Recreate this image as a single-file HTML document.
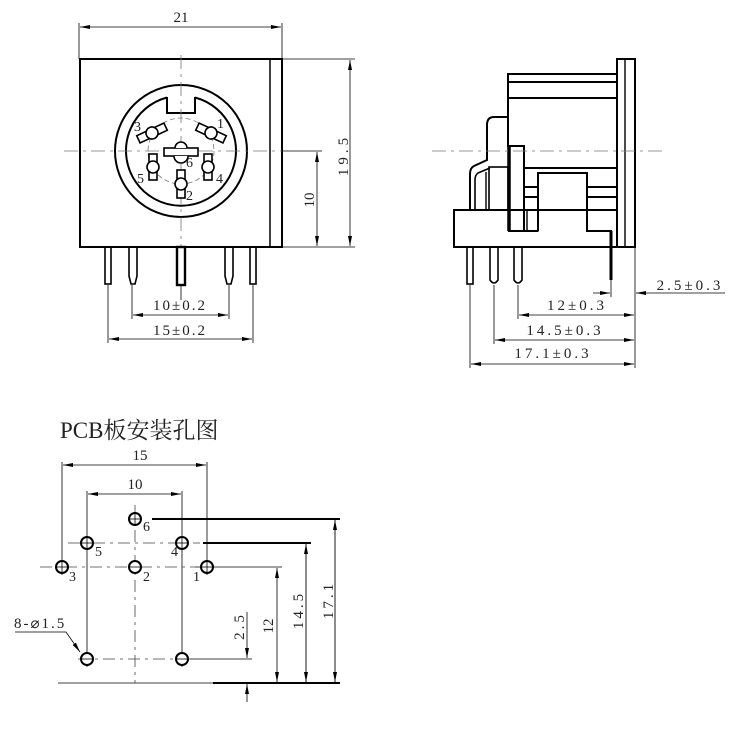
<!DOCTYPE html>
<html><head><meta charset="utf-8"><style>
html,body{margin:0;padding:0;background:#fff}
svg{display:block}
text{font-family:"Liberation Serif","Noto Serif CJK SC",serif;fill:#222}
</style></head><body>
<svg width="738" height="735" viewBox="0 0 738 735" xmlns="http://www.w3.org/2000/svg">
<defs>
<marker id="a" viewBox="0 0 10 6" refX="10" refY="3" markerWidth="10" markerHeight="6" orient="auto-start-reverse" markerUnits="userSpaceOnUse"><path d="M0,1 L10,3 L0,5z" fill="#000"/></marker>
</defs>
<g stroke="#000" fill="none">
<!-- FRONT VIEW -->
<g stroke-width="0.8">
<line x1="79" y1="23" x2="79" y2="59"/><line x1="282" y1="23" x2="282" y2="59"/>
<line x1="80" y1="27" x2="281" y2="27" marker-start="url(#a)" marker-end="url(#a)"/>
<line x1="282" y1="59" x2="355" y2="59"/><line x1="282" y1="247" x2="355" y2="247"/>
<line x1="350" y1="60" x2="350" y2="246" marker-start="url(#a)" marker-end="url(#a)"/>
<line x1="282" y1="151" x2="322" y2="151"/>
<line x1="317" y1="152" x2="317" y2="246" marker-start="url(#a)" marker-end="url(#a)"/>
</g>
<rect x="80" y="59" width="202" height="188" stroke-width="2"/>
<line x1="270" y1="59" x2="270" y2="247" stroke-width="1.5"/>
<circle cx="181" cy="151" r="66" stroke-width="2"/>
<path d="M167,97 L167,113 L195,113 L195,97" stroke-width="2"/>
<path d="M167,97.5 A55,55 0 1 0 195,97.5" stroke-width="2"/>
<g stroke="#777" stroke-width="0.8" stroke-dasharray="14,5,3,5">
<line x1="64" y1="151" x2="282" y2="151"/>
<line x1="181" y1="55" x2="181" y2="247"/>
</g>
<circle cx="181" cy="151" r="33" stroke="#777" stroke-width="0.8" stroke-dasharray="5,3"/>
<g stroke-width="1.6" fill="#fff">
<g transform="translate(153,167)"><rect x="-4" y="-13" width="8" height="26"/><circle r="6"/></g>
<g transform="translate(208,167)"><rect x="-4" y="-13" width="8" height="26"/><circle r="6"/></g>
<g transform="translate(181,184)"><rect x="-4" y="-14" width="8" height="28"/><circle r="6"/></g>
<g transform="translate(181,152)"><rect x="-17" y="-4" width="34" height="8"/><path d="M-7,4 A7,7 0 0 0 7,4"/><path d="M-6,-4 A6,6 0 0 1 6,-4"/></g>
<g transform="translate(152,133) rotate(-25)"><rect x="-15" y="-4" width="30" height="8"/><circle r="6"/></g>
<g transform="translate(211,133) rotate(25)"><rect x="-15" y="-4" width="30" height="8"/><circle r="6"/></g>
</g>
<!-- pins front -->
<g stroke-width="1.6">
<rect x="105" y="247" width="6" height="37"/>
<path d="M129,247 L129,276 L131,284 L135,284 L137,276 L137,247"/>
<rect x="177" y="247" width="8" height="38" stroke-width="2.4"/>
<path d="M225,247 L225,276 L227,284 L231,284 L233,276 L233,247"/>
<rect x="250" y="247" width="6" height="37"/>
</g>
<g stroke-width="0.8">
<line x1="108" y1="285" x2="108" y2="343"/><line x1="253" y1="285" x2="253" y2="343"/>
<line x1="132" y1="285" x2="132" y2="319"/><line x1="229" y1="285" x2="229" y2="319"/>
<line x1="181" y1="285" x2="181" y2="300"/>
<line x1="133" y1="315" x2="228" y2="315" marker-start="url(#a)" marker-end="url(#a)"/>
<line x1="109" y1="339" x2="252" y2="339" marker-start="url(#a)" marker-end="url(#a)"/>
</g>
<!-- SIDE VIEW -->
<g stroke-width="2">
<rect x="617" y="59" width="18" height="188"/>
<line x1="625" y1="59" x2="625" y2="247" stroke-width="1.4"/>
<path d="M617,74 L508,74 L508,147"/>
<line x1="508" y1="82" x2="617" y2="82"/>
<line x1="508" y1="98" x2="617" y2="98"/>
<rect x="454" y="210" width="163" height="37"/>
<rect x="509" y="146" width="15" height="85"/>
<line x1="509" y1="146" x2="509" y2="231" stroke-width="3.5"/>
<line x1="524" y1="168" x2="617" y2="168"/>
<path d="M538,231 L538,173 L587,173 L587,231 L612,231"/>
<line x1="524" y1="187" x2="538" y2="187"/><line x1="524" y1="197" x2="538" y2="197"/>
<line x1="587" y1="187" x2="617" y2="187"/><line x1="587" y1="197" x2="617" y2="197"/>
<rect x="527" y="210" width="11" height="21" stroke-width="1.4"/>
<line x1="538" y1="231" x2="524" y2="231"/>
<path d="M508,117 L494,117 Q487,117 487,125 L487,160 L474,166 Q470,168 470,174 L470,210"/>
<path d="M490,168 L478,173 Q475,175 475,180 L475,210" stroke-width="1.6"/>
<rect x="489" y="167" width="19" height="43" stroke-width="1.6"/>
<line x1="486" y1="172" x2="486" y2="210" stroke-width="1.4"/>
</g>
<g stroke-width="1.6">
<rect x="467" y="247" width="6" height="37"/>
<path d="M490,247 L490,280 Q494,286 498,280 L498,247"/>
<path d="M514,247 L514,280 Q518,286 522,280 L522,247"/>
</g>
<line x1="611" y1="231" x2="611" y2="280" stroke-width="3"/>
<line x1="432" y1="151" x2="664" y2="151" stroke="#777" stroke-width="0.8" stroke-dasharray="14,5,3,5"/>
<g stroke-width="0.8">
<line x1="635" y1="247" x2="635" y2="368"/>
<line x1="611" y1="280" x2="611" y2="297"/>
<line x1="593" y1="293" x2="610" y2="293" marker-end="url(#a)"/>
<line x1="725" y1="293" x2="636" y2="293" marker-end="url(#a)"/>
<line x1="518" y1="285" x2="518" y2="319"/>
<line x1="494" y1="285" x2="494" y2="344"/>
<line x1="470" y1="285" x2="470" y2="368"/>
<line x1="519" y1="315" x2="634" y2="315" marker-start="url(#a)" marker-end="url(#a)"/>
<line x1="495" y1="340" x2="634" y2="340" marker-start="url(#a)" marker-end="url(#a)"/>
<line x1="471" y1="364" x2="634" y2="364" marker-start="url(#a)" marker-end="url(#a)"/>
</g>
<!-- PCB -->
<g stroke-width="0.8">
<line x1="62" y1="462" x2="62" y2="575"/><line x1="207" y1="462" x2="207" y2="575"/>
<line x1="63" y1="465" x2="206" y2="465" marker-start="url(#a)" marker-end="url(#a)"/>
<line x1="87" y1="491" x2="87" y2="667"/><line x1="182" y1="491" x2="182" y2="667"/>
<line x1="88" y1="494" x2="181" y2="494" marker-start="url(#a)" marker-end="url(#a)"/>
<line x1="58" y1="683" x2="213" y2="683"/>
<line x1="195" y1="567" x2="282" y2="567"/>
<line x1="190" y1="659" x2="252" y2="659"/>
<line x1="277" y1="568" x2="277" y2="682" marker-start="url(#a)" marker-end="url(#a)"/>
<line x1="247" y1="612" x2="247" y2="658" marker-end="url(#a)"/>
<line x1="247" y1="702" x2="247" y2="684" marker-end="url(#a)"/>
<path d="M15,632 L66,632 L80,652" marker-end="url(#a)"/>
</g>
<g stroke="#444" stroke-width="0.8" stroke-dasharray="12,5,3,5">
<line x1="135" y1="505" x2="135" y2="683"/>
<line x1="68" y1="543" x2="200" y2="543"/>
<line x1="40" y1="567" x2="195" y2="567"/>
<line x1="78" y1="659" x2="190" y2="659"/>
</g>
<g stroke-width="2">
<line x1="152" y1="519" x2="340" y2="519"/>
<line x1="203" y1="543" x2="311" y2="543"/>
<line x1="213" y1="683" x2="340" y2="683"/>
</g>
<g stroke-width="0.9">
<line x1="335" y1="520" x2="335" y2="682" marker-start="url(#a)" marker-end="url(#a)"/>
<line x1="306" y1="544" x2="306" y2="682" marker-start="url(#a)" marker-end="url(#a)"/>
</g>
<g stroke-width="2" fill="#fff">
<circle cx="135" cy="519" r="6"/><circle cx="87" cy="543" r="6"/><circle cx="182" cy="543" r="6"/>
<circle cx="62" cy="567" r="6"/><circle cx="135" cy="567" r="6"/><circle cx="207" cy="567" r="6"/>
<circle cx="87" cy="659" r="6"/><circle cx="182" cy="659" r="6"/>
</g>
<g stroke-width="0.8">
<line x1="129" y1="519" x2="141" y2="519"/><line x1="135" y1="513" x2="135" y2="525"/>
<line x1="81" y1="543" x2="93" y2="543"/><line x1="87" y1="537" x2="87" y2="549"/>
<line x1="176" y1="543" x2="188" y2="543"/><line x1="182" y1="537" x2="182" y2="549"/>
<line x1="56" y1="567" x2="68" y2="567"/><line x1="62" y1="561" x2="62" y2="573"/>
<line x1="129" y1="567" x2="141" y2="567"/>
<line x1="201" y1="567" x2="213" y2="567"/><line x1="207" y1="561" x2="207" y2="573"/>
<line x1="81" y1="659" x2="93" y2="659"/><line x1="176" y1="659" x2="188" y2="659"/>
</g>
</g>
<!-- TEXT -->
<g font-size="15">
<text x="181" y="22" text-anchor="middle">21</text>
<text x="348" y="155" text-anchor="middle" transform="rotate(-90 348 155)" letter-spacing="4">19.5</text>
<text x="314" y="200" text-anchor="middle" transform="rotate(-90 314 200)">10</text>
<text x="180" y="310" text-anchor="middle" letter-spacing="2">10±0.2</text>
<text x="180" y="335" text-anchor="middle" letter-spacing="2">15±0.2</text>
<text x="690" y="290" text-anchor="middle" letter-spacing="3">2.5±0.3</text>
<text x="577" y="310" text-anchor="middle" letter-spacing="3">12±0.3</text>
<text x="565" y="335" text-anchor="middle" letter-spacing="3">14.5±0.3</text>
<text x="553" y="358" text-anchor="middle" letter-spacing="3">17.1±0.3</text>
<text x="140" y="460" text-anchor="middle">15</text>
<text x="135" y="489" text-anchor="middle">10</text>
<text x="14" y="628" letter-spacing="2">8-⌀1.5</text>
<text x="333" y="600" text-anchor="middle" transform="rotate(-90 333 600)" letter-spacing="3">17.1</text>
<text x="303" y="610" text-anchor="middle" transform="rotate(-90 303 610)" letter-spacing="3">14.5</text>
<text x="273" y="626" text-anchor="middle" transform="rotate(-90 273 626)">12</text>
<text x="244" y="626" text-anchor="middle" transform="rotate(-90 244 626)" letter-spacing="3">2.5</text>
</g>
<g font-size="14" style="fill:#666">
<text x="134" y="131">3</text><text x="217" y="128">1</text>
<text x="186" y="167">6</text><text x="137" y="183">5</text>
<text x="216" y="183">4</text><text x="186" y="200">2</text>
<text x="143" y="531">6</text><text x="95" y="556">5</text><text x="171" y="556">4</text>
<text x="69" y="581">3</text><text x="143" y="581">2</text><text x="193" y="581">1</text>
</g>
<text x="60" y="438" font-size="23">PCB板安装孔图</text>
</svg>
</body></html>
